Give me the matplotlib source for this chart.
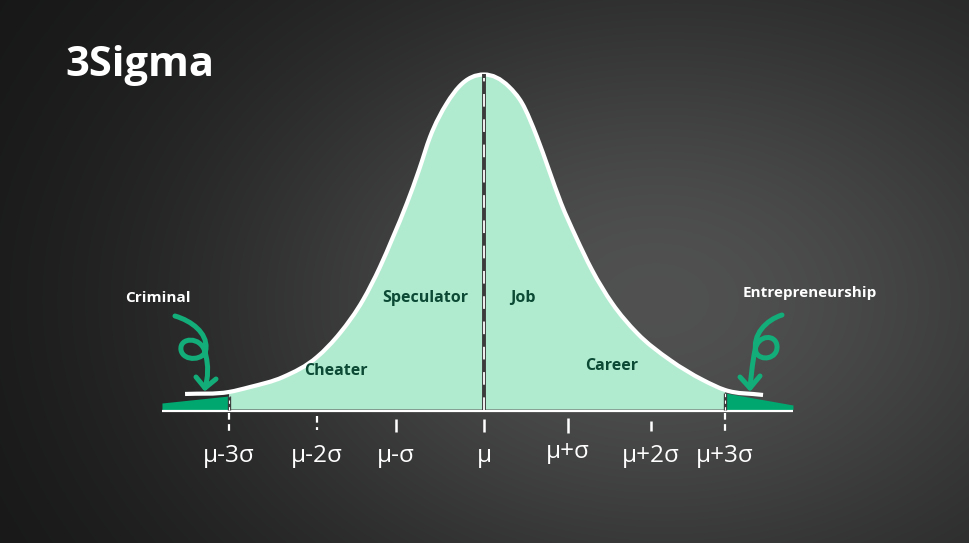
import numpy as np
import matplotlib
matplotlib.use("Agg")
import matplotlib.pyplot as plt
from matplotlib.path import Path
from matplotlib.patches import PathPatch

# ---------------- data (x in sigma units, y = density) ----------------
curve_x = [-3.615, -3.083, -2.830, -2.430, -2.019, -1.741, -1.463, -1.258,
           -1.100, -0.931, -0.786, -0.653, -0.447, -0.302, 0.0,
           0.302, 0.459, 0.641, 0.786, 0.931, 1.112, 1.306, 1.548,
           1.850, 2.249, 2.648, 2.914, 3.374]
curve_y = [0.0186, 0.0210, 0.0269, 0.0389, 0.0629, 0.0916, 0.1311, 0.1707,
           0.2066, 0.2473, 0.2868, 0.3263, 0.3671, 0.3866, 0.4012,
           0.3866, 0.3671, 0.3263, 0.2868, 0.2473, 0.2066, 0.1671,
           0.1275, 0.0916, 0.0593, 0.0353, 0.0234, 0.0174]

left_tail_x = [-3.894, -3.083]
left_tail_y = [0.0078, 0.0162]
right_tail_x = [2.914, 3.736]
right_tail_y = [0.0198, 0.0054]

tick_pos = [-3.083, -2.019, -1.064, 0.0, 1.016, 2.019, 2.914]
tick_labels = ["μ-3σ", "μ-2σ", "μ-σ", "μ", "μ+σ", "μ+2σ", "μ+3σ"]

region_labels = ["Speculator", "Job", "Cheater", "Career"]
region_x = [-0.713, 0.472, -1.790, 1.548]
region_y = [0.1332, 0.1332, 0.0461, 0.0521]

title = "3Sigma"

# ---------------- styling ----------------
PX_PER_SIGMA = 82.7
K = 0.4 / 334.0
CX, BY = 484.0, 409.5
W, H = 970, 543

def d(px, py):
    return ((px - CX) / PX_PER_SIGMA, (BY - py) * K)

MINT = "#b0ebd0"
DARKGREEN = "#00a870"
ARROWGREEN = "#13ad79"
TEXTGREEN = "#0c4a35"

plt.rcParams['font.family'] = ['Open Sans', 'DejaVu Sans']

fig = plt.figure(figsize=(W / 100, H / 100), dpi=100)
ax = fig.add_axes([0, 0, 1, 1])
X0, Y0 = d(0, H)
X1, Y1 = d(W, 0)
ax.set_xlim(X0, X1)
ax.set_ylim(Y0, Y1)
ax.axis("off")

# background gradient
yy, xx = np.mgrid[0:H, 0:W]
g = 0.08 + 0.215 * np.exp(-(((xx - 640) / 460.0) ** 2) - (((yy - 300) / 320.0) ** 2))
g += 0.03 * (xx / W)
bg = np.dstack([g, g * 1.005, g * 1.005])
ax.imshow(np.clip(bg, 0, 1), extent=[X0, X1, Y0, Y1], aspect="auto", zorder=0)


def smooth_path(xs, ys):
    """Cubic Hermite (in x) Bezier path through the given points."""
    x = np.asarray(xs, float)
    y = np.asarray(ys, float)
    n = len(x)
    m = np.empty(n)
    m[0] = (y[1] - y[0]) / (x[1] - x[0])
    m[-1] = (y[-1] - y[-2]) / (x[-1] - x[-2])
    for i in range(1, n - 1):
        h0 = x[i] - x[i - 1]
        h1 = x[i + 1] - x[i]
        s0 = (y[i] - y[i - 1]) / h0
        s1 = (y[i + 1] - y[i]) / h1
        m[i] = (h1 * s0 + h0 * s1) / (h0 + h1)
    verts = [(x[0], y[0])]
    codes = [Path.MOVETO]
    for i in range(n - 1):
        dx = x[i + 1] - x[i]
        verts += [(x[i] + dx / 3, y[i] + m[i] * dx / 3),
                  (x[i + 1] - dx / 3, y[i + 1] - m[i + 1] * dx / 3),
                  (x[i + 1], y[i + 1])]
        codes += [Path.CURVE4] * 3
    return verts, codes


cx = np.array(curve_x)
cy = np.array(curve_y)

# mint fill between +-3 sigma, bounded by the smooth curve
sel = (cx >= tick_pos[0] - 1e-9) & (cx <= tick_pos[-1] + 1e-9)
v, c = smooth_path(cx[sel], cy[sel])
v = v + [(cx[sel][-1], 0.0), (cx[sel][0], 0.0), v[0]]
c = c + [Path.LINETO, Path.LINETO, Path.CLOSEPOLY]
ax.add_patch(PathPatch(Path(v, c), fc=MINT, ec="none", zorder=2))

# tails
ax.fill_between(left_tail_x, 0, left_tail_y, color=DARKGREEN, lw=0, zorder=2)
ax.fill_between(right_tail_x, 0, right_tail_y, color=DARKGREEN, lw=0, zorder=2)

# curve outline
v, c = smooth_path(cx, cy)
ax.add_patch(PathPatch(Path(v, c), fc="none", ec="white", lw=3.0,
                       capstyle="butt", joinstyle="round", zorder=4))

# baseline
bl_y = d(0, 411)[1]
ax.plot([left_tail_x[0], right_tail_x[-1]], [bl_y, bl_y], color="white",
        lw=1.6, zorder=5, solid_capstyle="butt")

# center dashed line
ax.plot([0, 0], [0, cy.max()], color="#3b3b3b", lw=2.8, zorder=5,
        solid_capstyle="butt")
ax.plot([0, 0], [0, cy.max() - 0.004], color="white", lw=1.3, zorder=6,
        dashes=(7, 7))

# dividers at +-3 sigma
for xb, yb in [(tick_pos[0], 0.0162), (tick_pos[-1], 0.0198)]:
    ax.plot([xb, xb], [0, yb], color="#3b3b3b", lw=2.4, zorder=5,
            solid_capstyle="butt")
    ax.plot([xb, xb], [0, yb], color="white", lw=0.8, zorder=6, dashes=(3, 3))

# tick marks
tick_spans = [(413, 432, True), (416, 430, True), (419, 432, False),
              (419, 432, False), (418, 433, False), (421, 431, False),
              (413, 432, True)]
for xp, (t0, t1, dashed) in zip(tick_pos, tick_spans):
    ya, yb2 = d(0, t0)[1], d(0, t1)[1]
    if dashed:
        ax.plot([xp, xp], [ya, yb2], color="white", lw=1.6, dashes=(3, 2),
                zorder=5)
    else:
        ax.plot([xp, xp], [ya, yb2], color="white", lw=1.8, zorder=5,
                solid_capstyle="butt")

# tick labels
label_py = [456, 456, 456, 456, 452, 456, 456]
for xp, lab, py in zip(tick_pos, tick_labels, label_py):
    ax.text(xp, d(0, py)[1], lab, color="white", fontsize=17.5,
            ha="center", va="center", zorder=7)

# region labels
for lab, x, y in zip(region_labels, region_x, region_y):
    ax.text(x, y, lab, color=TEXTGREEN, fontsize=11.5, fontweight="bold",
            ha="center", va="center", zorder=7)

# outside labels
ax.text(*d(158, 298), "Criminal", color="white", fontsize=11,
        fontweight="bold", ha="center", va="center", zorder=7)
ax.text(*d(810, 293), "Entrepreneurship", color="white", fontsize=11,
        fontweight="bold", ha="center", va="center", zorder=7)

# title
ax.text(*d(65, 65), title, color="white", fontsize=30, fontweight="bold",
        ha="left", va="center", zorder=7)

# curly arrows
def curly(points, head):
    verts = [d(*p) for p in points]
    codes = [Path.MOVETO] + [Path.CURVE4] * (len(verts) - 1)
    ax.add_patch(PathPatch(Path(verts, codes), fc="none", ec=ARROWGREEN,
                           lw=3.6, capstyle="round", joinstyle="round",
                           zorder=8))
    hx, hy = zip(*[d(*p) for p in head])
    ax.plot(hx, hy, color=ARROWGREEN, lw=3.6, solid_capstyle="round",
            solid_joinstyle="round", zorder=8)

curly([(175, 316), (192, 321), (207, 333), (206, 348),
       (206, 361), (183, 362), (181, 350),
       (179, 337), (201, 336), (205, 352),
       (209, 366), (208, 378), (205, 388)],
      [(196, 377), (205, 388), (216, 379)])

curly([(782, 315), (766, 320), (752, 335), (756, 352),
       (760, 362), (778, 359), (777, 346),
       (776, 334), (758, 334), (755, 350),
       (752, 365), (751, 378), (750, 388)],
      [(740, 377), (750, 388), (760, 376)])

fig.savefig("out.png", dpi=100)
